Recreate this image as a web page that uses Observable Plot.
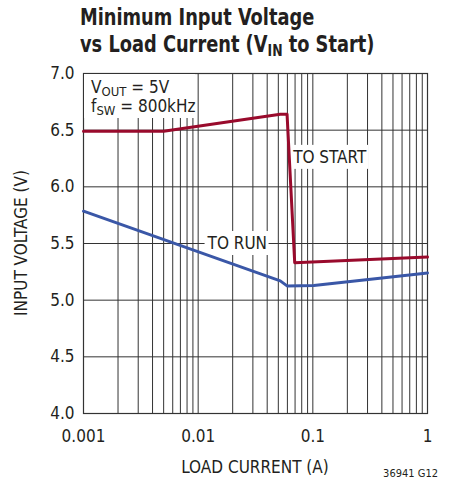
<!DOCTYPE html>
<html>
<head>
<meta charset="utf-8">
<script src="https://cdn.jsdelivr.net/npm/d3@7"></script>
<script src="https://cdn.jsdelivr.net/npm/@observablehq/plot@0.6"></script>
<style>
  body { margin: 0; background: #fff; width: 453px; height: 483px; overflow: hidden; }
  #title { position: absolute; left: 80px; top: 4px; font-family: "DejaVu Sans Condensed", "Liberation Sans", sans-serif; font-weight: bold; font-size: 23px; line-height: 27px; color: #231f20; transform: scaleX(0.86); transform-origin: 0 0; white-space: nowrap; }
  #title sub { font-size: 16px; vertical-align: -4px; line-height: 0; }
  #chart { position: absolute; left: 0; top: 62px; }
</style>
</head>
<body>
<div id="title">Minimum Input Voltage<br>vs Load Current (V<sub>IN</sub> to Start)</div>
<div id="chart"></div>
<script>
// Data
const startCurrent = [0.001, 0.005, 0.052, 0.0596, 0.0695, 1];
const startVoltage = [6.49, 6.49, 6.64, 6.64, 5.33, 5.38];
const runCurrent = [0.001, 0.052, 0.0596, 0.102, 1];
const runVoltage = [5.785, 5.17, 5.126, 5.13, 5.24];
const xTicks = [0.001, 0.01, 0.1, 1];
const xTickLabels = ["0.001", "0.01", "0.1", "1"];
const yTicks = [4.0, 4.5, 5.0, 5.5, 6.0, 6.5, 7.0];
const decades = [0.001, 0.01, 0.1];
const minorMultipliers = [2, 3, 4, 5, 6, 7, 8, 9];

const startData = startCurrent.map((x, i) => ({x, y: startVoltage[i]}));
const runData = runCurrent.map((x, i) => ({x, y: runVoltage[i]}));
const xGrid = decades.flatMap(d => minorMultipliers.map(m => d * m)).concat(xTicks);

const font = '"DejaVu Sans Condensed", "Liberation Sans", sans-serif';
const ink = "#231f20";
const red = "#990a2c";
const blue = "#3a57a7";

const plot = Plot.plot({
  width: 453,
  height: 421,
  marginTop: 11,
  marginLeft: 83,
  marginRight: 26,
  marginBottom: 70,
  style: {fontFamily: font, fontSize: "17px", color: ink, background: "#fff"},
  x: {type: "log", domain: [0.001, 1], label: null},
  y: {domain: [4, 7], label: null},
  marks: [
    Plot.ruleX(xGrid, {stroke: "#333", strokeWidth: 1}),
    Plot.ruleY(yTicks, {stroke: "#333", strokeWidth: 1}),
    Plot.frame({stroke: "#333", strokeWidth: 1.2}),
    Plot.line(runData, {x: "x", y: "y", stroke: blue, strokeWidth: 3}),
    Plot.line(startData, {x: "x", y: "y", stroke: red, strokeWidth: 3}),
    Plot.axisX({ticks: xTicks, tickFormat: d => xTickLabels[xTicks.indexOf(d)], tickSize: 0, tickPadding: 16, fontSize: 17, label: null}),
    Plot.axisY({ticks: yTicks, tickFormat: d => d.toFixed(1), tickSize: 0, tickPadding: 9, fontSize: 17, label: null})
  ]
});
document.getElementById("chart").appendChild(plot);

// Annotations placed through the plot's scales
const sx = plot.scale("x"), sy = plot.scale("y");
const svg = d3.select(plot);
const firstLine = plot.querySelector('g[aria-label="line"]');
// white backings go under the curves
const back = d3.select(plot.insertBefore(document.createElementNS("http://www.w3.org/2000/svg", "g"), firstLine)).attr("fill", "#fff");
const ann = svg.append("g").attr("font-family", font).attr("fill", ink).attr("text-anchor", "start");
const X = v => sx.apply(v), Y = v => sy.apply(v);

// conditions box (top-left)
const x0 = X(0.001), y0 = Y(7);
back.append("rect").attr("x", x0 + 1).attr("y", y0 + 1).attr("width", 111).attr("height", 44);
const t1 = ann.append("text").attr("x", x0 + 8).attr("y", y0 + 20).attr("font-size", 17);
t1.append("tspan").text("V");
t1.append("tspan").attr("font-size", 13).attr("dy", 3).text("OUT");
t1.append("tspan").attr("dy", -3).text(" = 5V");
const t2 = ann.append("text").attr("x", x0 + 8).attr("y", y0 + 39).attr("font-size", 17);
t2.append("tspan").text("f");
t2.append("tspan").attr("font-size", 13).attr("dy", 3).text("SW");
t2.append("tspan").attr("dy", -3).text(" = 800kHz");

// curve labels with white backing
function label(text, cx, cy, w) {
  back.append("rect").attr("x", X(cx) - 3).attr("y", Y(cy) - 12).attr("width", w).attr("height", 24);
  ann.append("text").attr("x", X(cx)).attr("y", Y(cy) + 6).attr("font-size", 17).text(text);
}
label("TO START", 0.068, 6.26, 78);
label("TO RUN", 0.0122, 5.5, 64);

// axis titles
svg.append("text").attr("transform", `translate(27,${(Y(7) + Y(4)) / 2}) rotate(-90)`).attr("text-anchor", "middle")
  .attr("font-family", font).attr("font-size", 17).attr("fill", ink).text("INPUT VOLTAGE (V)");
svg.append("text").attr("x", (X(0.001) + X(1)) / 2).attr("y", Y(4) + 60).attr("text-anchor", "middle")
  .attr("font-family", font).attr("font-size", 17).attr("fill", ink).text("LOAD CURRENT (A)");
svg.append("text").attr("x", 438).attr("y", 415).attr("text-anchor", "end")
  .attr("font-family", font).attr("font-size", 11).attr("fill", ink).text("36941 G12");
</script>
</body>
</html>
